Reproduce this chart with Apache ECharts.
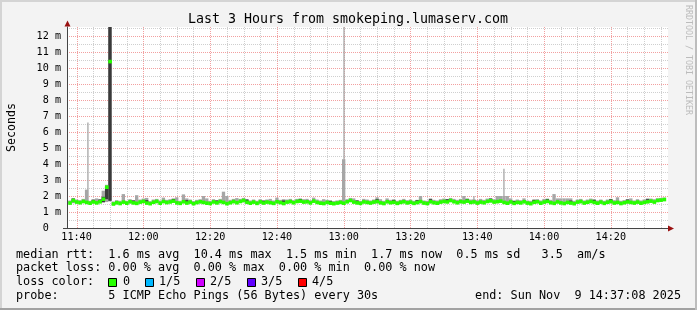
<!DOCTYPE html>
<html><head><meta charset="utf-8">
<script src="https://cdn.jsdelivr.net/npm/echarts@6/dist/echarts.min.js"></script>
<style>html,body{margin:0;padding:0;background:#f3f3f3}#c{width:697px;height:310px}</style>
</head><body><div id="c"></div>
<script>
// ---------- data ----------
const chartTitle = 'Last 3 Hours from smokeping.lumaserv.com';
const axisStartMinute = 11 * 60 + 37 + 8 / 60;   // 11:37:08
const axisEndMinute = 14 * 60 + 37 + 8 / 60;     // 14:37:08
const firstSampleMinute = 698;                   // 11:38, one sample per minute

// median rtt (ms) per minute
const median = [
  1.56,1.72,1.62,1.58,1.66,1.60,1.55,1.63,1.57,1.64,
  1.80,2.55,10.4,1.50,1.58,1.53,1.62,1.55,1.64,1.57,
  1.54,1.62,1.66,1.56,1.52,1.61,1.66,1.55,1.65,1.59,
  1.63,1.68,1.57,1.54,1.64,1.56,1.62,1.52,1.59,1.64,
  1.60,1.55,1.53,1.63,1.57,1.65,1.60,1.52,1.58,1.65,
  1.58,1.66,1.72,1.61,1.55,1.62,1.54,1.63,1.56,1.62,
  1.58,1.54,1.64,1.59,1.53,1.62,1.65,1.58,1.66,1.68,
  1.62,1.64,1.57,1.68,1.60,1.55,1.53,1.60,1.55,1.52,
  1.56,1.60,1.55,1.64,1.72,1.62,1.57,1.54,1.63,1.60,
  1.56,1.62,1.65,1.57,1.53,1.64,1.58,1.61,1.54,1.60,
  1.64,1.57,1.61,1.54,1.59,1.65,1.56,1.53,1.64,1.58,
  1.55,1.62,1.66,1.63,1.72,1.64,1.58,1.65,1.62,1.68,
  1.60,1.63,1.56,1.62,1.58,1.66,1.70,1.62,1.65,1.68,
  1.60,1.55,1.63,1.54,1.60,1.57,1.64,1.56,1.52,1.61,
  1.64,1.55,1.62,1.66,1.58,1.54,1.63,1.57,1.53,1.60,
  1.56,1.52,1.62,1.65,1.56,1.61,1.66,1.60,1.55,1.62,
  1.54,1.61,1.65,1.56,1.60,1.53,1.58,1.63,1.60,1.56,
  1.62,1.55,1.60,1.64,1.68,1.62,1.72,1.74,1.78
];
// lowest ping per minute (ms)
const smokeLo = [
  1.52,1.55,1.56,1.54,1.55,1.54,1.52,1.54,1.50,1.55,
  1.58,1.62,1.66,1.46,1.48,1.50,1.54,1.50,1.54,1.52,
  1.50,1.54,1.56,1.52,1.48,1.54,1.55,1.52,1.56,1.54,
  1.55,1.58,1.54,1.52,1.55,1.50,1.54,1.50,1.52,1.54,
  1.55,1.52,1.48,1.54,1.52,1.55,1.54,1.48,1.52,1.55,
  1.54,1.56,1.60,1.55,1.50,1.54,1.50,1.54,1.52,1.55,
  1.54,1.52,1.55,1.54,1.50,1.54,1.55,1.56,1.56,1.58,
  1.56,1.55,1.54,1.58,1.55,1.52,1.48,1.52,1.50,1.47,
  1.50,1.52,1.52,1.55,1.62,1.56,1.54,1.50,1.54,1.55,
  1.54,1.52,1.55,1.54,1.48,1.55,1.54,1.52,1.50,1.54,
  1.55,1.54,1.52,1.50,1.54,1.55,1.52,1.48,1.55,1.54,
  1.52,1.54,1.56,1.58,1.62,1.58,1.54,1.55,1.56,1.58,
  1.55,1.54,1.52,1.54,1.55,1.56,1.60,1.56,1.55,1.58,
  1.55,1.52,1.54,1.50,1.52,1.54,1.55,1.52,1.48,1.54,
  1.55,1.52,1.54,1.56,1.54,1.50,1.55,1.54,1.50,1.54,
  1.52,1.48,1.54,1.55,1.52,1.54,1.56,1.55,1.52,1.54,
  1.50,1.54,1.55,1.52,1.54,1.48,1.52,1.54,1.55,1.52,
  1.54,1.50,1.54,1.55,1.58,1.56,1.62,1.66,1.68
];
// highest ping per minute (ms)
const smokeHi = [
  1.72,1.86,1.78,1.74,1.82,2.40,1.70,1.80,1.85,1.80,
  2.33,2.70,14.0,1.66,1.74,1.70,2.12,1.70,1.80,1.74,
  2.05,1.78,1.84,1.88,1.68,1.78,1.82,1.72,1.90,1.76,
  1.80,1.84,1.92,1.70,2.10,1.85,1.78,1.68,1.76,1.80,
  2.00,1.85,1.70,1.80,1.74,1.82,2.27,2.00,1.76,1.82,
  1.87,1.82,1.88,1.80,1.72,1.78,1.70,1.80,1.74,1.78,
  1.82,1.72,1.90,1.76,1.80,1.78,1.82,1.74,1.82,1.84,
  1.80,1.82,1.74,1.90,1.78,1.72,1.80,1.76,1.72,1.68,
  1.72,1.76,4.30,1.80,1.88,1.85,1.74,1.70,1.82,1.78,
  1.72,1.78,1.92,1.80,1.70,1.85,1.76,1.78,1.70,1.76,
  1.82,1.74,1.78,1.70,1.76,2.00,1.72,1.70,1.85,1.76,
  1.72,1.80,1.84,1.80,1.88,1.82,1.76,1.82,2.00,1.84,
  1.78,1.80,1.74,1.82,1.76,1.84,1.86,1.80,2.00,2.00,
  2.00,2.00,1.85,1.70,1.78,1.74,1.85,1.72,1.70,1.78,
  1.80,1.72,1.82,1.84,1.76,2.12,1.85,1.85,1.85,1.85,
  1.85,1.70,1.78,1.82,1.72,1.78,1.84,1.80,1.72,1.78,
  1.70,1.78,1.82,1.74,1.92,1.70,1.74,1.80,1.85,1.72,
  1.80,1.72,1.78,1.85,1.84,1.80,1.86,1.88,1.90
];
// dense inner smoke: [sample index, low ms, high ms]
const innerSmoke = [
  [1,1.62,1.84],[7,1.60,1.76],[9,1.58,1.78],[10,1.62,1.95],[11,1.80,2.60],[12,1.70,14.0],
  [19,1.55,1.72],[23,1.58,1.74],[31,1.62,1.82],[35,1.58,1.74],[44,1.55,1.72],[53,1.60,1.78],
  [58,1.54,1.70],[64,1.56,1.72],[69,1.62,1.82],[78,1.53,1.70],[86,1.55,1.72],[92,1.60,1.80],
  [97,1.58,1.76],[104,1.56,1.74],[108,1.60,1.80],[113,1.60,1.80],[119,1.64,1.82],[126,1.66,1.84],
  [133,1.52,1.70],[139,1.58,1.76],[143,1.62,1.80],[150,1.54,1.72],[157,1.58,1.76],[162,1.62,1.80],
  [167,1.60,1.78],[173,1.62,1.80]
];
// single outlier pings: [sample index, low ms, high ms]
const outliers = [
  [5.4,1.60,6.60],[82.1,4.30,14.0],[121.0,1.60,2.00],[130.0,2.00,3.70]
];

const xMajorTicks = [700,720,740,760,780,800,820,840,860];
const xTickLabels = ['11:40','12:00','12:20','12:40','13:00','13:20','13:40','14:00','14:20'];
const xMinorTicks = [705,710,715,725,730,735,745,750,755,765,770,775,785,790,795,805,810,815,825,830,835,845,850,855,865,870,875];
const yMajorTicks = [0,1,2,3,4,5,6,7,8,9,10,11,12];
const yMinorTicks = [0.5,1.5,2.5,3.5,4.5,5.5,6.5,7.5,8.5,9.5,10.5,11.5,12.5];
const yTickLabels = ['0  ','1 m','2 m','3 m','4 m','5 m','6 m','7 m','8 m','9 m','10 m','11 m','12 m'];
const yMax = 12.5625;

const statLines = [
  'median rtt:  1.6 ms avg  10.4 ms max  1.5 ms min  1.7 ms now  0.5 ms sd   3.5  am/s',
  'packet loss: 0.00 % avg  0.00 % max  0.00 % min  0.00 % now'
];
const lossLabel = 'loss color:';
const lossNames = ['0','1/5','2/5','3/5','4/5'];
const lossColors = ['#26ff00','#00b8ff','#d000ff','#6000ff','#ff0000'];
const probeLine = 'probe:       5 ICMP Echo Pings (56 Bytes) every 30s';
const endLine = 'end: Sun Nov  9 14:37:08 2025';
const watermark = 'RRDTOOL / TOBI OETIKER';

// ---------- chart ----------
const mono = '"DejaVu Sans Mono", monospace';
const chart = echarts.init(document.getElementById('c'), null, {width: 697, height: 310});

function vLineSeries(ticks, color) {
  return {
    type: 'custom', z: 1, silent: true, clip: false,
    data: ticks.map(v => [v, 0]),
    renderItem: (p, api) => {
      const a = api.coord([api.value(0), 0]), b = api.coord([api.value(0), yMax]);
      const x = Math.round(a[0]) + 0.5;
      return {type: 'line', shape: {x1: x, y1: b[1], x2: x, y2: a[1]},
        style: {stroke: color, lineWidth: 1, lineDash: [1, 1]}};
    }
  };
}
function hLineSeries(ticks, color) {
  return {
    type: 'custom', z: 1, silent: true, clip: false,
    data: ticks.map(v => [axisStartMinute, v]),
    renderItem: (p, api) => {
      const a = api.coord([axisStartMinute, api.value(1)]), b = api.coord([axisEndMinute, api.value(1)]);
      const y = Math.round(a[1]) + 0.5;
      return {type: 'line', shape: {x1: a[0], y1: y, x2: b[0], y2: y},
        style: {stroke: color, lineWidth: 1, lineDash: [1, 1]}};
    }
  };
}
function bandSeries(rows, color, z, fullStep, thinWidth) {
  return {
    type: 'custom', z: z, silent: true, clip: true,
    data: rows,
    encode: {x: 0, y: [1, 2]},
    renderItem: (p, api) => {
      const x = api.value(0), lo = api.value(1), hi = api.value(2);
      let a, b;
      if (fullStep) { a = api.coord([x - 0.5, hi]); b = api.coord([x + 0.5, lo]); }
      else { const c = api.coord([x, hi]); const d = api.coord([x, lo]);
             a = [c[0] - thinWidth / 2, c[1]]; b = [c[0] + thinWidth / 2, d[1]]; }
      return {type: 'rect', shape: {x: a[0], y: a[1], width: b[0] - a[0], height: b[1] - a[1]},
        style: {fill: color}};
    }
  };
}

const smokeRows = smokeLo.map((lo, i) => [firstSampleMinute + i, lo, smokeHi[i]]);
const innerRows = innerSmoke.map(r => [firstSampleMinute + r[0], r[1], r[2]]);
const outlierRows = outliers.map(r => [firstSampleMinute + r[0], r[1], r[2]]);
const medianRows = median.map((m, i) => [firstSampleMinute + i, m]);

const graphics = [
  {type: 'rect', shape: {x: 0, y: 0, width: 697, height: 2}, style: {fill: '#d4d4d4'}},
  {type: 'rect', shape: {x: 0, y: 0, width: 2, height: 310}, style: {fill: '#d4d4d4'}},
  {type: 'rect', shape: {x: 0, y: 308, width: 697, height: 2}, style: {fill: '#a2a2a2'}},
  {type: 'rect', shape: {x: 695, y: 0, width: 2, height: 310}, style: {fill: '#bdbdbd'}},
  {type: 'text', x: 348, y: 19.5, style: {text: chartTitle, font: '13.3px ' + mono, fill: '#000', align: 'center', verticalAlign: 'middle'}},
  {type: 'text', x: 688, y: 5, rotation: -Math.PI / 2, style: {text: watermark, font: '8.3px ' + mono, fill: '#bcbcbc', align: 'left', verticalAlign: 'middle'}},
  {type: 'line', shape: {x1: 63, y1: 228.5, x2: 67, y2: 228.5}, style: {stroke: '#444', lineWidth: 1}, z: 10},
  {type: 'polygon', shape: {points: [[64.5, 26.5], [70.5, 26.5], [67.5, 20.5]]}, style: {fill: '#9a1111'}, z: 10},
  {type: 'polygon', shape: {points: [[668, 225.5], [668, 231.5], [674, 228.5]]}, style: {fill: '#9a1111'}, z: 10},
  {type: 'text', x: 16, y: 254.5, style: {text: statLines[0], font: '11.8px ' + mono, fill: '#000', verticalAlign: 'middle'}},
  {type: 'text', x: 16, y: 268, style: {text: statLines[1], font: '11.8px ' + mono, fill: '#000', verticalAlign: 'middle'}},
  {type: 'text', x: 16, y: 282, style: {text: lossLabel, font: '11.8px ' + mono, fill: '#000', verticalAlign: 'middle'}},
  {type: 'text', x: 16, y: 296, style: {text: probeLine, font: '11.8px ' + mono, fill: '#000', verticalAlign: 'middle'}},
  {type: 'text', x: 681, y: 296, style: {text: endLine, font: '11.8px ' + mono, fill: '#000', align: 'right', verticalAlign: 'middle'}}
];
const boxX = [108.5, 145.5, 196.5, 247.5, 298.5];
const boxTextX = [123, 159, 210, 261, 312];
lossNames.forEach((n, k) => {
  graphics.push({type: 'rect', shape: {x: boxX[k], y: 278.5, width: 8, height: 8}, style: {fill: lossColors[k], stroke: '#000', lineWidth: 1}});
  graphics.push({type: 'text', x: boxTextX[k], y: 282, style: {text: n, font: '11.8px ' + mono, fill: '#000', verticalAlign: 'middle'}});
});

chart.setOption({
  backgroundColor: '#f3f3f3',
  animation: false,
  grid: {left: 67, right: 29, top: 27, bottom: 82, show: true, backgroundColor: '#ffffff', borderWidth: 0, containLabel: false, outerBoundsMode: 'none'},
  xAxis: {
    type: 'value', min: axisStartMinute, max: axisEndMinute, splitNumber: 9, z: 5,
    axisLine: {show: true, lineStyle: {color: '#444', width: 1}},
    axisTick: {show: false}, splitLine: {show: false},
    axisLabel: {
      customValues: xMajorTicks, margin: 4, color: '#000', fontFamily: mono, fontSize: 10.15,
      showMinLabel: true, showMaxLabel: true,
      formatter: v => { const k = xMajorTicks.findIndex(t => Math.abs(t - v) < 1e-6); return k < 0 ? '' : xTickLabels[k]; }
    }
  },
  yAxis: {
    type: 'value', min: 0, max: yMax, interval: 1, z: 5,
    name: 'Seconds', nameLocation: 'middle', nameGap: 49, nameRotate: 90, nameMoveOverlap: false,
    nameTextStyle: {fontFamily: mono, fontSize: 11.6, color: '#000'},
    axisLine: {show: true, lineStyle: {color: '#444', width: 1}},
    axisTick: {show: false}, splitLine: {show: false},
    axisLabel: {
      margin: 6, color: '#000', fontFamily: mono, fontSize: 10.15,
      formatter: v => { const k = yMajorTicks.indexOf(v); return k < 0 ? '' : yTickLabels[k]; }
    }
  },
  series: [
    vLineSeries(xMinorTicks, '#cfcfcf'),
    hLineSeries(yMinorTicks, '#cfcfcf'),
    vLineSeries(xMajorTicks, '#f2a0a0'),
    hLineSeries(yMajorTicks, '#f2a0a0'),
    bandSeries(smokeRows, '#a6a6a6', 2, true, 0),
    bandSeries(outlierRows, '#a6a6a6', 2, false, 1.3),
    bandSeries(innerRows, '#3a3a3a', 3, true, 0),
    {
      type: 'custom', z: 4, silent: true, clip: true,
      data: medianRows, encode: {x: 0, y: 1},
      renderItem: (p, api) => {
        const x = api.value(0), m = api.value(1);
        const a = api.coord([x - 0.5, m]), b = api.coord([x + 0.5, m]);
        return {type: 'rect', shape: {x: a[0], y: a[1] - 1.8, width: b[0] - a[0] + 0.3, height: 3.6},
          style: {fill: lossColors[0]}};
      }
    }
  ],
  graphic: {elements: graphics}
});
</script></body></html>
